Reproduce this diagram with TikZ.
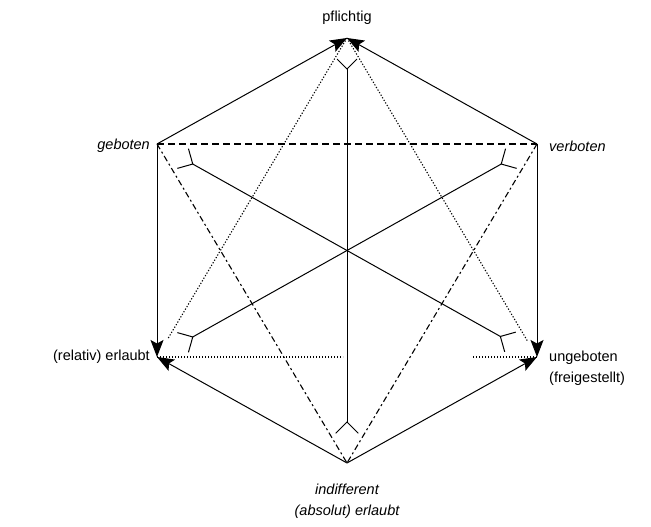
\documentclass[tikz,border=0pt]{standalone}
\usepackage{fontspec}
\setmainfont{Liberation Sans}
\usepackage{tikz}
\usetikzlibrary{arrows.meta,calc}
\definecolor{cLine}{HTML}{000000}
\tikzset{
  vlab/.style  = {font=\fontsize{14.5}{21}\selectfont, inner sep=0pt},
  vlabi/.style = {vlab, font=\fontsize{14.5}{21}\selectfont\itshape},
  imp/.style   = {-{Stealth[length=17pt,width=13pt,inset=3.5pt]}, draw=cLine, line width=1pt},
  ctr/.style   = {draw=cLine, line width=1pt},
  contra/.style = {draw=cLine, line width=1.1pt, dash pattern=on 7pt off 4pt},
  contrad/.style = {draw=cLine, line width=1.1pt, dash pattern=on 6pt off 3pt on 2pt off 3pt},
  sub/.style   = {draw=cLine, line width=1.1pt, dash pattern=on 1.2pt off 1.8pt},
}
\begin{document}
\begin{tikzpicture}[x=1pt,y=1pt]
  \useasboundingbox (0,0) rectangle (651,527);

  % ---- the six corners ----
  \coordinate (pf)  at (347,489);
  \coordinate (geb) at (157,383);
  \coordinate (verb) at (537,383);
  \coordinate (erl) at (157,170);
  \coordinate (ung) at (537,170);
  \coordinate (ind) at (347,64);

  \node[vlab] (tPf) at (347,509) {pflichtig};
  \node[vlabi, anchor=east] (tGeb) at (150,381) {geboten};
  \node[vlabi, anchor=west] (tVerb) at (549,381) {verboten};
  \node[vlab, anchor=east] (tErl) at (150,170) {(relativ) erlaubt};
  \node[vlab, anchor=west, align=left] (tUng) at (549,159) {ungeboten\\(freigestellt)};
  \node[vlabi, align=center] (tInd) at (347,26) {indifferent\\(absolut) erlaubt};

  % ---- outer hexagon: implications ----
  \draw[imp] (geb) -- (pf);
  \draw[imp] (verb) -- (pf);
  \draw[imp] (geb) -- (erl);
  \draw[imp] (verb) -- (ung);
  \draw[imp] (ind) -- (erl);
  \draw[imp] (ind) -- (ung);

  % ---- contraries ----
  \draw[contra] (geb) -- (verb);
  \draw[contrad] (geb) -- (ind);
  \draw[contrad] (verb) -- (ind);

  % ---- subcontraries ----
  \coordinate (sL) at (343,170);
  \coordinate (sR) at (473,170);
  \draw[sub] (erl) -- (sL);
  \draw[sub] (sR) -- (ung);
  \draw[sub, shorten >=22pt] (pf) -- (erl);
  \draw[sub, shorten >=18pt] (pf) -- (ung);

  % ---- contradictories with forked ends ----
  \coordinate (kPf)   at ($(pf)!31pt!(ind)$);
  \coordinate (kInd)  at ($(ind)!41pt!(pf)$);
  \coordinate (kGeb)  at ($(geb)!41pt!(ung)$);
  \coordinate (kUng)  at ($(ung)!42pt!(geb)$);
  \coordinate (kVerb) at ($(verb)!41pt!(erl)$);
  \coordinate (kErl)  at ($(erl)!41pt!(verb)$);
  \draw[ctr] (kPf) -- (kInd);
  \draw[ctr] (kGeb) -- (kUng);
  \draw[ctr] (kVerb) -- (kErl);
  \draw[ctr] ($(kPf)!14pt!45:(pf)$) -- (kPf) -- ($(kPf)!14pt!-45:(pf)$);
  \draw[ctr] ($(kInd)!16pt!45:(ind)$) -- (kInd) -- ($(kInd)!16pt!-45:(ind)$);
  \draw[ctr] ($(kGeb)!16pt!45:(geb)$) -- (kGeb) -- ($(kGeb)!16pt!-45:(geb)$);
  \draw[ctr] ($(kUng)!16pt!45:(ung)$) -- (kUng) -- ($(kUng)!16pt!-45:(ung)$);
  \draw[ctr] ($(kVerb)!16pt!45:(verb)$) -- (kVerb) -- ($(kVerb)!16pt!-45:(verb)$);
  \draw[ctr] ($(kErl)!16pt!45:(erl)$) -- (kErl) -- ($(kErl)!16pt!-45:(erl)$);
\end{tikzpicture}
\end{document}
